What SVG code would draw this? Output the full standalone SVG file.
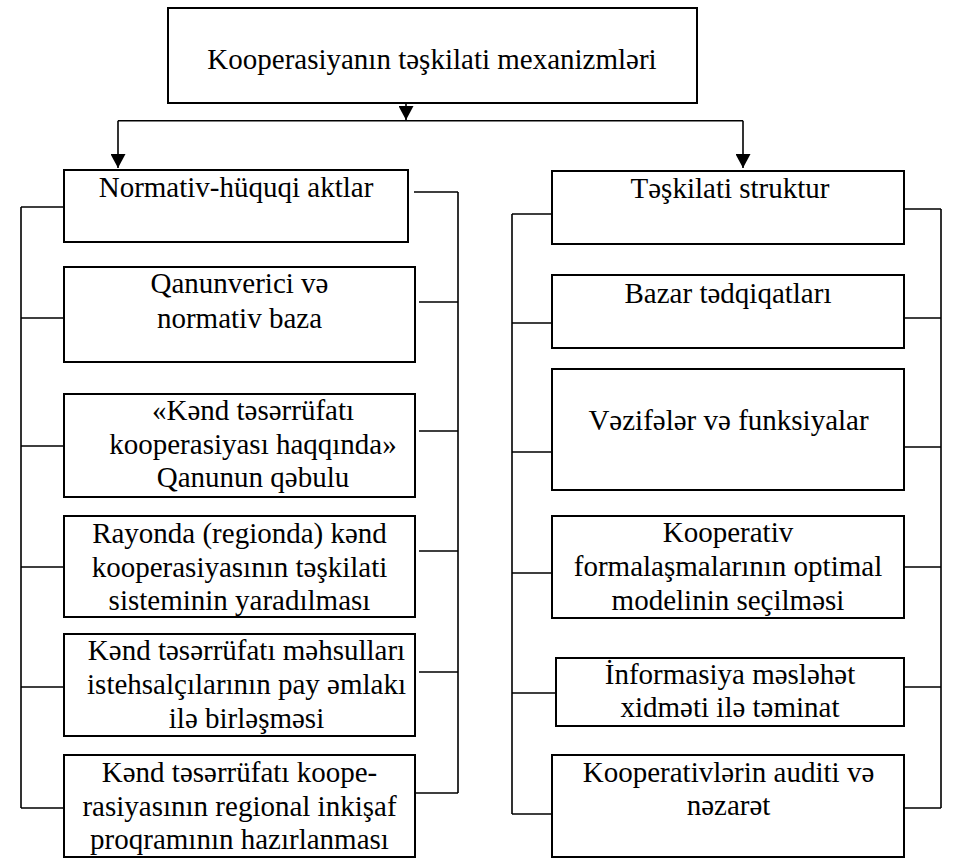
<svg xmlns="http://www.w3.org/2000/svg" width="953" height="860" viewBox="0 0 953 860">
<defs>
<style>
.box{fill:#fff;stroke:#000;stroke-width:2}
.t{font-family:"Liberation Serif","Times New Roman",Times,serif;font-size:29px;fill:#000;text-anchor:middle}
.c{fill:none;stroke:#000;stroke-width:1.6}
</style>
<marker id="ah" viewBox="0 0 14 15" refX="14" refY="7.5" markerWidth="14" markerHeight="15" markerUnits="userSpaceOnUse" orient="auto">
<path d="M0,0 L14,7.5 L0,15 Z" fill="#000"/>
</marker>
</defs>
<rect width="953" height="860" fill="#fff"/>
<g id="connectors">
<path class="c" d="M406,97 V120" marker-end="url(#ah)"/>
<path class="c" d="M118,120.7 H743"/>
<path class="c" d="M118,120.7 V168" marker-end="url(#ah)"/>
<path class="c" d="M743,120.7 V168" marker-end="url(#ah)"/>
<path class="c" d="M21,207 V808 M21,207 H66 M21,318 H64 M21,446 H64 M21,567 H64 M21,687 H66 M21,808 H64"/>
<path class="c" d="M458,192 V793 M414,192 H458 M419,302 H458 M419,431 H458 M419,551 H458 M419,672 H458 M415,793 H458"/>
<path class="c" d="M512,214 V814 M512,214 H551 M512,323 H555 M512,452 H555 M512,573 H555 M512,693 H558 M512,814 H555"/>
<path class="c" d="M941,209 V808 M903,209 H941 M904,318 H941 M904,447 H941 M904,567 H941 M904,687 H941 M904,808 H941"/>
</g>
<g id="top">
<rect class="box" x="168" y="8" width="529" height="95"/>
<text class="t" x="432" y="69">Kooperasiyanın təşkilati mexanizmləri</text>
</g>
<g id="l1">
<rect class="box" x="64" y="170" width="344" height="72"/>
<text class="t" x="236" y="197">Normativ-hüquqi aktlar</text>
</g>
<g id="l2">
<rect class="box" x="64" y="267" width="351" height="95"/>
<text class="t" x="239.5" y="293">Qanunverici və</text>
<text class="t" x="239.5" y="328">normativ baza</text>
</g>
<g id="l3">
<rect class="box" x="64" y="394" width="351" height="103"/>
<text class="t" x="253" y="420">«Kənd təsərrüfatı</text>
<text class="t" x="253" y="454">kooperasiyası haqqında»</text>
<text class="t" x="253" y="487">Qanunun qəbulu</text>
</g>
<g id="l4">
<rect class="box" x="64" y="516" width="351" height="101"/>
<text class="t" x="239.5" y="543">Rayonda (regionda) kənd</text>
<text class="t" x="239.5" y="577">kooperasiyasının təşkilati</text>
<text class="t" x="239.5" y="610">sisteminin yaradılması</text>
</g>
<g id="l5">
<rect class="box" x="64" y="634" width="351" height="102"/>
<text class="t" x="246.5" y="660">Kənd təsərrüfatı məhsulları</text>
<text class="t" x="246.5" y="694">istehsalçılarının pay əmlakı</text>
<text class="t" x="246.5" y="728">ilə birləşməsi</text>
</g>
<g id="l6">
<rect class="box" x="64" y="755" width="351" height="102"/>
<text class="t" x="239.5" y="782">Kənd təsərrüfatı koope-</text>
<text class="t" x="239.5" y="816">rasiyasının regional inkişaf</text>
<text class="t" x="239.5" y="849">proqramının hazırlanması</text>
</g>
<g id="r1">
<rect class="box" x="552" y="171" width="352" height="73"/>
<text class="t" x="730" y="198">Təşkilati struktur</text>
</g>
<g id="r2">
<rect class="box" x="552" y="275" width="352" height="73"/>
<text class="t" x="728" y="303">Bazar tədqiqatları</text>
</g>
<g id="r3">
<rect class="box" x="552" y="369" width="352" height="121"/>
<text class="t" x="728.5" y="430">Vəzifələr və funksiyalar</text>
</g>
<g id="r4">
<rect class="box" x="552" y="516" width="352" height="102"/>
<text class="t" x="728" y="542">Kooperativ</text>
<text class="t" x="728" y="576">formalaşmalarının optimal</text>
<text class="t" x="728" y="610">modelinin seçilməsi</text>
</g>
<g id="r5">
<rect class="box" x="556" y="658" width="348" height="68"/>
<text class="t" x="730" y="684">İnformasiya məsləhət</text>
<text class="t" x="730" y="717">xidməti ilə təminat</text>
</g>
<g id="r6">
<rect class="box" x="552" y="755" width="352" height="102"/>
<text class="t" x="728.5" y="782">Kooperativlərin auditi və</text>
<text class="t" x="728.5" y="815">nəzarət</text>
</g>
</svg>
